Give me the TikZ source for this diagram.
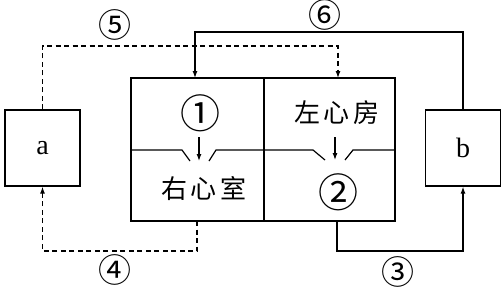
\documentclass[tikz,border=0pt]{standalone}
\usepackage{fontspec}
\setmainfont{Liberation Serif}
\newfontfamily\cjk{Noto Sans CJK SC}
\usetikzlibrary{arrows.meta}
\begin{document}
\begin{tikzpicture}[x=1pt,y=-1pt,
  line width=1.2pt,
  arr/.style={-{Latex[length=7pt,width=5pt]}},
  dsh/.style={dash pattern=on 5pt off 3.5pt},
  box/.style={draw,minimum width=75pt,minimum height=76pt,inner sep=0pt,font=\fontsize{28}{30}\selectfont},
  cjklab/.style={font=\cjk\fontsize{26}{28}\selectfont,inner sep=0pt},
  bignum/.style={font=\cjk\fontsize{40}{42}\selectfont,inner sep=0pt},
  smallnum/.style={font=\cjk\fontsize{33}{35}\selectfont,inner sep=0pt}]
\useasboundingbox (0,0) rectangle (502,289);
% boxes
\node[box] (a) at (42.5,148) {a};
\node[box] (b) at (463,148) {b};
\node[draw,minimum width=264pt,minimum height=143pt,inner sep=0pt] (heart) at (263,149.5) {};
% divider and valves
\draw (heart.north -| 264,0) coordinate (midtop) -- (heart.south -| 264,0) coordinate (midbot);
\draw (131,150) -- (182,150) -- (190,161);
\draw (209,161) -- (216,150) -- (264,150);
\draw (264,150) -- (313,150) -- (325,160);
\draw (345,160) -- (353,150) -- (395,150);
\coordinate (v1s) at (199,137); \coordinate (v1e) at (199,161);
\coordinate (v2s) at (335,137); \coordinate (v2e) at (335,160);
\draw[arr] (v1s) -- (v1e);
\draw[arr] (v2s) -- (v2e);
% labels in chambers
\node[bignum] (n1) at (200,113) {①};
\node[cjklab] (la) at (337,113) {左\hspace{4pt}心\hspace{4pt}房};
\node[cjklab] (rv) at (204,188) {右\hspace{4pt}心\hspace{4pt}室};
\node[bignum] (n2) at (338,192) {②};
% connector coordinates
\coordinate (raIn) at (195,78);
\coordinate (laIn) at (338,78);
\coordinate (rvOut) at (197,221);
\coordinate (lvOut) at (337,221);
\coordinate (y6) at (0,32);
\coordinate (y5) at (0,46);
\coordinate (y4) at (0,251);
% connectors
\draw[arr] (b.north) -- (b.north |- y6) -| (raIn);
\draw[arr,dsh] (a.north) -- (a.north |- y5) -| (laIn);
\draw[arr,dsh] (rvOut) -- (rvOut |- y4) -| (a.south);
\draw[arr] (lvOut) -- (lvOut |- y4) -| (b.south);
% connector labels
\node[smallnum] (l5) at (115,25) {⑤};
\node[smallnum] (l6) at (325,15) {⑥};
\node[smallnum] (l4) at (115,270) {④};
\node[smallnum] (l3) at (398,272) {③};
\end{tikzpicture}
\end{document}
